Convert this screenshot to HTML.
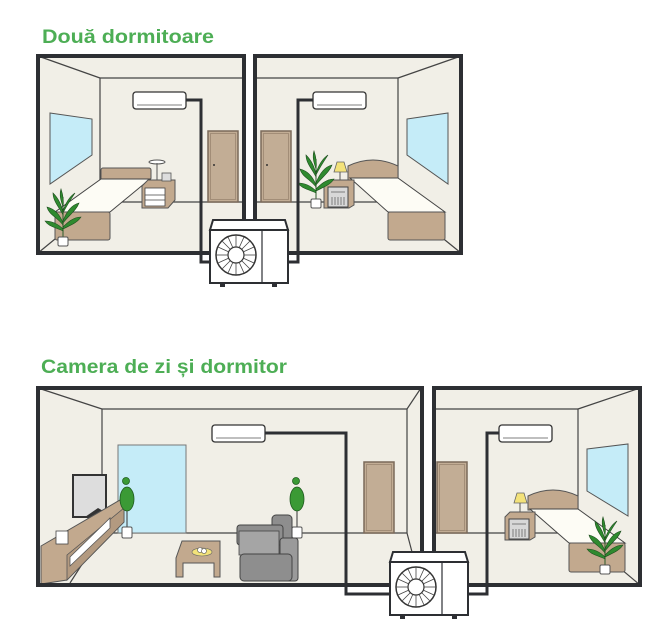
<!DOCTYPE html>
<html><head><meta charset="utf-8"><style>
html,body{margin:0;padding:0;background:#fff;width:669px;height:639px;overflow:hidden}
svg{display:block}
text{font-family:"Liberation Sans",sans-serif;font-weight:bold;fill:#4dae55}
</style></head><body>
<svg width="669" height="639" viewBox="0 0 669 639" xmlns="http://www.w3.org/2000/svg">
<defs>
<g id="palm">
 <path d="M0,0 L0,-40" stroke="#2a5a2a" stroke-width="1"/>
 <path d="M0,-12 C-6,-20 -14,-22 -16,-30 C-8,-28 -3,-22 0,-14Z M0,-14 C6,-22 13,-26 16,-34 C8,-32 3,-24 0,-16Z M0,-22 C-4,-30 -10,-36 -10,-44 C-4,-38 -1,-30 0,-24Z M0,-24 C4,-32 8,-38 12,-44 C6,-40 2,-32 0,-26Z M0,-30 C-2,-36 -4,-42 -2,-48 C0,-42 1,-36 0,-30Z M0,-6 C-8,-10 -14,-10 -18,-16 C-10,-16 -4,-12 0,-8Z M0,-8 C8,-12 14,-14 18,-20 C10,-20 4,-14 0,-10Z" fill="#2f8a2f" stroke="#1d4d1d" stroke-width="0.6"/>
 <rect x="-5" y="0" width="10" height="9" rx="1.5" fill="#fff" stroke="#555" stroke-width="1"/>
</g>
<g id="topiary">
 <path d="M0,-4 L0,-40" stroke="#333" stroke-width="1"/>
 <circle cx="-1" cy="-50" r="3.5" fill="#3b9a35" stroke="#1f5a1f" stroke-width="0.8"/>
 <ellipse cx="0" cy="-32" rx="7" ry="12" fill="#3b9a35" stroke="#1f5a1f" stroke-width="0.8"/>
 <rect x="-5" y="-4" width="10" height="11" rx="1.5" fill="#fff" stroke="#555" stroke-width="1"/>
</g>
<g id="ac">
 <rect x="0" y="0" width="53" height="17" rx="3" fill="#fff" stroke="#333" stroke-width="1.3"/>
 <line x1="4" y1="13" x2="49" y2="13" stroke="#555" stroke-width="0.8"/>
</g>
<g id="unit">
 <path d="M3,0 L75,0 L78,10 L0,10Z" fill="#fff" stroke="#2d2f33" stroke-width="2"/>
 <rect x="0" y="10" width="78" height="53" fill="#fff" stroke="#2d2f33" stroke-width="2"/>
 <line x1="52" y1="10" x2="52" y2="63" stroke="#2d2f33" stroke-width="1.2"/>
 <circle cx="26" cy="35" r="20" fill="#fff" stroke="#333" stroke-width="1.5"/>
 <circle cx="26" cy="35" r="8" fill="#fff" stroke="#333" stroke-width="1.2"/>
 <g stroke="#444" stroke-width="0.8">
  <line x1="26" y1="15" x2="26" y2="27"/><line x1="26" y1="43" x2="26" y2="55"/>
  <line x1="6" y1="35" x2="18" y2="35"/><line x1="34" y1="35" x2="46" y2="35"/>
  <line x1="12" y1="21" x2="20" y2="29"/><line x1="32" y1="41" x2="40" y2="49"/>
  <line x1="40" y1="21" x2="32" y2="29"/><line x1="20" y1="41" x2="12" y2="49"/>
  <line x1="18" y1="17" x2="23" y2="28"/><line x1="29" y1="42" x2="34" y2="53"/>
  <line x1="34" y1="17" x2="29" y2="28"/><line x1="23" y1="42" x2="18" y2="53"/>
  <line x1="8" y1="27" x2="19" y2="32"/><line x1="33" y1="38" x2="44" y2="43"/>
  <line x1="44" y1="27" x2="33" y2="32"/><line x1="19" y1="38" x2="8" y2="43"/>
 </g>
 <rect x="10" y="63" width="5" height="4" fill="#2d2f33"/><rect x="62" y="63" width="5" height="4" fill="#2d2f33"/>
</g>
<g id="door">
 <rect x="0" y="0" width="30" height="71" fill="#c2ad95" stroke="#7b6a5a" stroke-width="1.5"/>
 <rect x="2.5" y="2.5" width="25" height="66" fill="none" stroke="#9a8570" stroke-width="0.8"/>
</g>
<g id="stand">
 <path d="M0,5 L5,0 L30,0 L30,25 L25,28 L0,28Z" fill="#c2a98e" stroke="#555" stroke-width="1"/>
 <rect x="4" y="7" width="20" height="20" fill="#d8d8d8" stroke="#444" stroke-width="1"/>
 <g stroke="#555" stroke-width="0.7"><line x1="7" y1="12" x2="21" y2="12"/><line x1="8" y1="17" x2="8" y2="25"/><line x1="11" y1="17" x2="11" y2="25"/><line x1="14" y1="17" x2="14" y2="25"/><line x1="17" y1="17" x2="17" y2="25"/><line x1="20" y1="17" x2="20" y2="25"/></g>
</g>
</defs>

<text x="42" y="43" font-size="19" textLength="172" lengthAdjust="spacingAndGlyphs">Două dormitoare</text>
<text x="41" y="373" font-size="19" textLength="246" lengthAdjust="spacingAndGlyphs">Camera de zi și dormitor</text>

<!-- ===== Room 1 ===== -->
<rect x="38" y="56" width="206" height="197" fill="#f1efe7"/>
<g stroke="#444" stroke-width="1.2" fill="none">
 <line x1="38" y1="56" x2="100" y2="78"/><line x1="100" y1="78" x2="243" y2="78"/>
 <line x1="100" y1="78" x2="100" y2="202"/><line x1="100" y1="202" x2="243" y2="202"/>
 <line x1="100" y1="202" x2="38" y2="253"/>
</g>
<polygon points="50,113 92,119 92,155 50,184" fill="#c5ecf8" stroke="#555" stroke-width="1"/>
<use href="#ac" x="133" y="92"/>
<use href="#door" x="208" y="131"/>
<circle cx="214" cy="165" r="1" fill="#333"/>
<rect x="101" y="168" width="50" height="12" rx="2" fill="#c2a98e" stroke="#555" stroke-width="1"/>
<polygon points="101,179 150,179 110,212 55,212" fill="#fdfcf5" stroke="#444" stroke-width="1"/>
<rect x="55" y="212" width="55" height="28" rx="2" fill="#c2a98e" stroke="#555" stroke-width="1"/>
<path d="M142,186 L148,180 L175,180 L175,200 L168,208 L142,208Z" fill="#c2a98e" stroke="#555" stroke-width="1"/>
<rect x="145" y="188" width="20" height="18" fill="#fff" stroke="#444" stroke-width="0.8"/>
<line x1="145" y1="195" x2="165" y2="195" stroke="#444" stroke-width="0.7"/>
<line x1="145" y1="200" x2="165" y2="200" stroke="#444" stroke-width="0.7"/>
<ellipse cx="157" cy="162" rx="8" ry="2" fill="#fff" stroke="#555" stroke-width="1"/>
<line x1="157" y1="163" x2="157" y2="180" stroke="#555"/>
<rect x="162" y="173" width="9" height="8" fill="#ddd" stroke="#555" stroke-width="0.8"/>
<use href="#palm" x="63" y="237"/>
<rect x="38" y="56" width="206" height="197" fill="none" stroke="#2d2f33" stroke-width="4"/>

<!-- ===== Room 2 ===== -->
<rect x="255" y="56" width="206" height="197" fill="#f1efe7"/>
<g stroke="#444" stroke-width="1.2" fill="none">
 <line x1="461" y1="56" x2="398" y2="78"/><line x1="256" y1="78" x2="398" y2="78"/>
 <line x1="398" y1="78" x2="398" y2="202"/><line x1="256" y1="202" x2="398" y2="202"/>
 <line x1="398" y1="202" x2="461" y2="253"/>
</g>
<polygon points="407,119 448,113 448,184 407,155" fill="#c5ecf8" stroke="#555" stroke-width="1"/>
<use href="#ac" x="313" y="92"/>
<use href="#door" x="261" y="131"/>
<circle cx="267" cy="165" r="1" fill="#333"/>
<path d="M348,180 L348,166 Q373,154 398,166 L398,180Z" fill="#c2a98e" stroke="#555" stroke-width="1"/>
<polygon points="350,178 398,178 445,212 388,212" fill="#fdfcf5" stroke="#444" stroke-width="1"/>
<rect x="388" y="212" width="57" height="28" rx="2" fill="#c2a98e" stroke="#555" stroke-width="1"/>
<use href="#stand" x="324" y="180"/>
<path d="M337,162 L344,162 L347,172 L334,172Z" fill="#f3e27a" stroke="#666" stroke-width="0.8"/>
<line x1="340" y1="172" x2="340" y2="180" stroke="#555"/>
<use href="#palm" x="316" y="199"/>
<rect x="255" y="56" width="206" height="197" fill="none" stroke="#2d2f33" stroke-width="4"/>

<!-- pipes top -->
<g stroke="#2d2f33" stroke-width="3" fill="none">
 <polyline points="186,100 201,100 201,262 212,262"/>
 <polyline points="313,100 298,100 298,262 287,262"/>
</g>
<use href="#unit" x="210" y="220"/>

<!-- ===== Room 3 ===== -->
<rect x="38" y="388" width="384" height="197" fill="#f1efe7"/>
<g stroke="#444" stroke-width="1.2" fill="none">
 <line x1="38" y1="388" x2="102" y2="409"/><line x1="102" y1="409" x2="407" y2="409"/>
 <line x1="421" y1="388" x2="407" y2="409"/>
 <line x1="102" y1="409" x2="102" y2="533"/><line x1="407" y1="409" x2="407" y2="533"/>
 <line x1="102" y1="533" x2="407" y2="533"/>
 <line x1="407" y1="533" x2="412" y2="552"/>
 <line x1="102" y1="533" x2="70" y2="583"/>
</g>
<rect x="118" y="445" width="68" height="88" fill="#c5ecf8" stroke="#777" stroke-width="1"/>
<use href="#ac" x="212" y="425"/>
<use href="#door" x="364" y="462"/>
<rect x="73" y="475" width="33" height="42" fill="#ddd" stroke="#333" stroke-width="2"/>
<path d="M85,517 L98,508 L105,512 L95,522Z" fill="#333"/>
<path d="M41,546 L120,500 L124,502 L124,522 L67,580 L41,584Z" fill="#c2a98e" stroke="#555" stroke-width="1"/>
<path d="M67,555 L124,508 L124,522 L67,580Z" fill="#b39a80" stroke="#555" stroke-width="0.8"/>
<rect x="56" y="531" width="12" height="13" fill="#fff" stroke="#444" stroke-width="0.8"/>
<path d="M70,557 L110,518 L110,528 L70,566Z" fill="#fff" stroke="#555" stroke-width="0.8"/>
<use href="#topiary" x="127" y="531"/>
<use href="#topiary" x="297" y="531"/>
<path d="M182,541 L220,541 L220,577 L214,577 L214,563 L183,563 L183,577 L176,577 L176,558Z" fill="#c2a98e" stroke="#555" stroke-width="1"/>
<ellipse cx="202" cy="552" rx="10" ry="4" fill="#f3e27a" stroke="#666" stroke-width="0.6"/>
<circle cx="200" cy="550" r="2.5" fill="#fff" stroke="#555" stroke-width="0.6"/>
<circle cx="204" cy="551" r="2.5" fill="#fff" stroke="#555" stroke-width="0.6"/>
<rect x="272" y="515" width="20" height="40" rx="4" fill="#8e8e8e" stroke="#444" stroke-width="1"/>
<rect x="237" y="525" width="46" height="20" rx="3" fill="#8e8e8e" stroke="#444" stroke-width="1"/>
<rect x="239" y="531" width="40" height="24" fill="#a5a5a5" stroke="#444" stroke-width="0.8"/>
<rect x="280" y="538" width="18" height="43" rx="3" fill="#9a9a9a" stroke="#444" stroke-width="1"/>
<rect x="240" y="554" width="52" height="27" rx="4" fill="#8e8e8e" stroke="#444" stroke-width="1"/>
<rect x="38" y="388" width="384" height="197" fill="none" stroke="#2d2f33" stroke-width="4"/>

<!-- ===== Room 4 ===== -->
<rect x="434" y="388" width="206" height="197" fill="#f1efe7"/>
<g stroke="#444" stroke-width="1.2" fill="none">
 <line x1="640" y1="388" x2="578" y2="409"/><line x1="436" y1="409" x2="578" y2="409"/>
 <line x1="578" y1="409" x2="578" y2="533"/><line x1="436" y1="533" x2="578" y2="533"/>
 <line x1="578" y1="533" x2="640" y2="585"/>
</g>
<polygon points="587,449 628,444 628,516 587,491" fill="#c5ecf8" stroke="#555" stroke-width="1"/>
<use href="#ac" x="499" y="425"/>
<use href="#door" x="437" y="462"/>
<path d="M528,510 L528,496 Q553,484 578,496 L578,510Z" fill="#c2a98e" stroke="#555" stroke-width="1"/>
<polygon points="530,509 578,509 625,543 569,543" fill="#fdfcf5" stroke="#444" stroke-width="1"/>
<rect x="569" y="543" width="56" height="29" rx="2" fill="#c2a98e" stroke="#555" stroke-width="1"/>
<use href="#stand" x="505" y="512"/>
<path d="M517,493 L524,493 L527,503 L514,503Z" fill="#f3e27a" stroke="#666" stroke-width="0.8"/>
<line x1="520" y1="503" x2="520" y2="512" stroke="#555"/>
<use href="#palm" x="605" y="565"/>
<rect x="434" y="388" width="206" height="197" fill="none" stroke="#2d2f33" stroke-width="4"/>

<g stroke="#2d2f33" stroke-width="3" fill="none">
 <polyline points="265,433 346,433 346,594 392,594"/>
 <polyline points="499,433 487,433 487,594 466,594"/>
</g>
<use href="#unit" x="390" y="552"/>
</svg>
</body></html>
